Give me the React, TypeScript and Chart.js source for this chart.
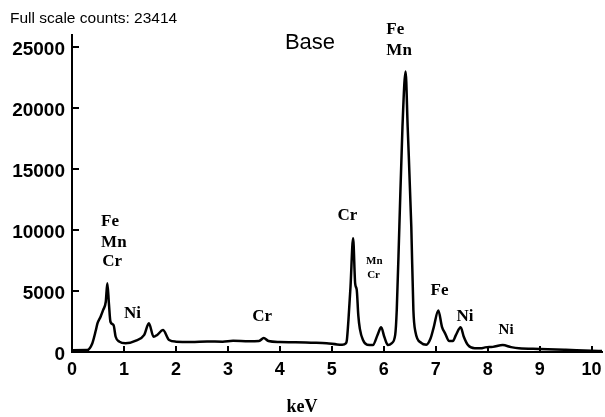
import React, { useEffect, useRef } from "react";
import { Chart, registerables } from "chart.js";

Chart.register(...registerables);

// Energy axis (keV) and counts
const energyKeV = [
  0, 0.29, 0.39, 0.46, 0.49, 0.55, 0.6, 0.65, 0.68, 0.71, 0.74, 0.8, 0.84, 0.91,
  1.03, 1.23, 1.39, 1.48, 1.57, 1.64, 1.75, 1.87, 2.0, 2.3, 2.6, 2.9, 3.1, 3.4,
  3.6, 3.69, 3.78, 4.0, 4.3, 4.6, 4.9, 5.1, 5.2, 5.27, 5.29, 5.32, 5.36, 5.41,
  5.45, 5.48, 5.51, 5.54, 5.6, 5.68, 5.79, 5.88, 5.95, 6.01, 6.08, 6.15, 6.22,
  6.25, 6.3, 6.36, 6.42, 6.46, 6.53, 6.57, 6.61, 6.72, 6.82, 6.9, 6.96, 7.05,
  7.12, 7.18, 7.26, 7.33, 7.39, 7.48, 7.54, 7.62, 7.75, 7.87, 7.95, 8.1, 8.29,
  8.45, 8.6, 9.0, 9.5, 10.0, 10.2,
];
const counts = [
  150, 160, 700, 1800, 2350, 2900, 3450, 4120, 5630, 4000, 2480, 2200, 1250, 850,
  710, 930, 1400, 2350, 1250, 1400, 1800, 980, 850, 830, 870, 850, 920, 880,
  900, 1150, 900, 820, 800, 760, 720, 620, 600, 700, 980, 2620, 5350, 9320,
  5600, 5100, 3000, 1900, 980, 600, 570, 1400, 2030, 1250, 570, 710, 1400,
  3440, 10270, 18470, 23000, 18470, 10270, 3440, 1640, 750, 600, 1100, 2000, 3400,
  2070, 1530, 900, 900, 1400, 2030, 1250, 570, 300, 300, 380, 420, 570,
  400, 300, 250, 180, 100, 80,
];

const yTickValues = [0, 5000, 10000, 15000, 20000, 25000];
const xTickValues = [0, 1, 2, 3, 4, 5, 6, 7, 8, 9, 10];

// Peak labels: text, energy (keV), counts level, size
const peakLabels = [
  { text: "Fe", keV: 0.56, c: 10670, size: 17 },
  { text: "Mn", keV: 0.56, c: 8980, size: 17 },
  { text: "Cr", keV: 0.58, c: 7390, size: 17 },
  { text: "Ni", keV: 1.0, c: 3170, size: 17 },
  { text: "Cr", keV: 3.47, c: 2890, size: 17 },
  { text: "Cr", keV: 5.11, c: 11220, size: 17 },
  { text: "Mn", keV: 5.66, c: 7450, size: 11 },
  { text: "Cr", keV: 5.68, c: 6300, size: 11 },
  { text: "Fe", keV: 6.05, c: 26450, size: 17 },
  { text: "Mn", keV: 6.05, c: 24730, size: 17 },
  { text: "Fe", keV: 6.9, c: 5000, size: 17 },
  { text: "Ni", keV: 7.4, c: 2890, size: 17 },
  { text: "Ni", keV: 8.21, c: 1800, size: 15 },
];

const decorPlugin = {
  id: "decor",
  afterDraw(chart: any) {
    const ctx = chart.ctx as CanvasRenderingContext2D;
    const xs = chart.scales.x;
    const ys = chart.scales.y;
    ctx.save();
    ctx.strokeStyle = "#000";
    ctx.fillStyle = "#000";
    ctx.lineWidth = 2;
    // inward ticks
    for (const v of yTickValues) {
      const py = Math.round(ys.getPixelForValue(v));
      ctx.beginPath();
      ctx.moveTo(xs.left, py);
      ctx.lineTo(xs.left + 7, py);
      ctx.stroke();
    }
    for (const v of xTickValues) {
      const px = Math.round(xs.getPixelForValue(v));
      ctx.beginPath();
      ctx.moveTo(px, ys.bottom);
      ctx.lineTo(px, ys.bottom - 6);
      ctx.stroke();
    }
    // tick labels
    ctx.font = "bold 19px 'Liberation Sans', Arial, sans-serif";
    ctx.textAlign = "right";
    ctx.textBaseline = "alphabetic";
    for (const v of yTickValues) {
      const py = ys.getPixelForValue(v);
      ctx.fillText(String(v), xs.left - 7, py + 7.5);
    }
    ctx.font = "bold 18px 'Liberation Sans', Arial, sans-serif";
    ctx.textAlign = "center";
    for (const v of xTickValues) {
      const px = xs.getPixelForValue(v);
      ctx.fillText(String(v), px, ys.bottom + 23);
    }
    // peak labels
    ctx.textAlign = "left";
    ctx.textBaseline = "middle";
    for (const l of peakLabels) {
      ctx.font = `bold ${l.size}px 'Liberation Serif', 'Times New Roman', serif`;
      ctx.fillText(l.text, xs.getPixelForValue(l.keV), ys.getPixelForValue(l.c));
    }
    // titles
    ctx.textAlign = "center";
    ctx.font = "bold 18px 'Liberation Serif', 'Times New Roman', serif";
    ctx.fillText("keV", 302, 407);
    ctx.font = "22px 'Liberation Sans', Arial, sans-serif";
    ctx.fillText("Base", 310, 43);
    ctx.textAlign = "left";
    ctx.textBaseline = "alphabetic";
    ctx.font = "15.5px 'Liberation Sans', Arial, sans-serif";
    ctx.fillText("Full scale counts: 23414", 10, 23);
    ctx.restore();
  },
};

export default function App() {
  const ref = useRef<HTMLCanvasElement | null>(null);
  useEffect(() => {
    if (!ref.current) return;
    const chart = new Chart(ref.current, {
      type: "line",
      data: {
        datasets: [
          {
            data: energyKeV.map((e, i) => ({ x: e, y: counts[i] })),
            borderColor: "#000",
            borderWidth: 2.5,
            pointRadius: 0,
            cubicInterpolationMode: "monotone",
            fill: false,
            clip: false as any,
          },
        ],
      },
      options: {
        animation: false,
        responsive: false,
        layout: { padding: { left: 72, right: 3, top: 35, bottom: 65 } },
        plugins: { legend: { display: false }, tooltip: { enabled: false } },
        scales: {
          x: {
            type: "linear",
            min: 0,
            max: 10.2,
            ticks: { display: false, stepSize: 1 },
            grid: { drawOnChartArea: false, drawTicks: false },
            border: { display: true, color: "#000", width: 2 },
          },
          y: {
            type: "linear",
            min: 0,
            max: 26000,
            ticks: { display: false, stepSize: 5000 },
            grid: { drawOnChartArea: false, drawTicks: false },
            border: { display: true, color: "#000", width: 2 },
          },
        },
      },
      plugins: [decorPlugin],
    });
    return () => chart.destroy();
  }, []);
  return (
    <div style={{ position: "absolute", left: 0, top: 0, width: 605, height: 417, background: "#fff" }}>
      <canvas ref={ref} width={605} height={417} />
    </div>
  );
}
